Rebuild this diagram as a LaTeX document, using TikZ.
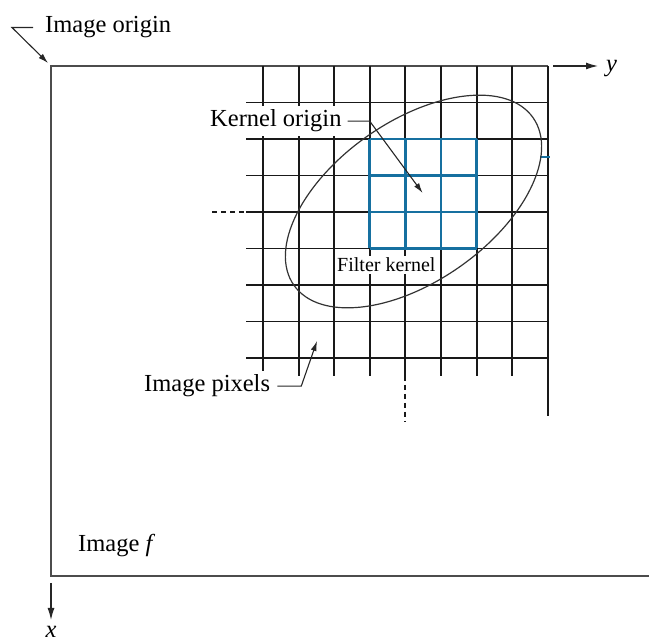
\documentclass[tikz,border=0pt]{standalone}
\usepackage{fontspec}
\setmainfont{Liberation Serif}
\usetikzlibrary{arrows.meta}

\definecolor{kernelblue}{RGB}{22,112,160}
\def\cw{35.6}
\def\ch{36.5}

\begin{document}
\begin{tikzpicture}[
  x=1pt, y=-1pt,
  font=\fontsize{24.5}{29}\selectfont,
  frame/.style={draw=black!70, line width=2pt},
  gridline/.style={draw=black!90, line width=1.9pt},
  kernelline/.style={draw=kernelblue, line width=2.8pt},
  guide/.style={gridline, dash pattern=on 5pt off 4pt},
  ellipseline/.style={draw=black!80, line width=1.2pt},
  lbl/.style={anchor=base west, inner sep=0pt},
  boxlbl/.style={lbl, fill=white, inner xsep=1pt, inner ysep=4pt},
  lead/.style={draw=black!85, line width=1.1pt, -{Latex[length=10pt,width=6pt]}},
  axisarr/.style={draw=black!85, line width=1.2pt, -{Latex[length=12pt,width=7pt]}},
]
\useasboundingbox (0,0) rectangle (649,644);

% ====== IMAGE FRAME ======
\draw[frame] (548,66) -- (51,66) -- (51,576) -- (649,576);

% ====== PIXEL GRID ======
\foreach \k in {0,...,7}
  \draw[gridline] ({263+\k*\cw},66) -- ({263+\k*\cw},376);
\draw[gridline] ({263+8*\cw},66) -- ({263+8*\cw},416);
\foreach \j in {1,...,8}
  \draw[gridline] (246,{66+\j*\ch}) -- ({263+8*\cw},{66+\j*\ch});

% dashed guides
\draw[guide] (212,{66+4*\ch}) -- (246,{66+4*\ch});
\draw[guide] ({263+4*\cw},376) -- ({263+4*\cw},422);

% ====== FILTER KERNEL ======
\foreach \k in {3,...,6}
  \draw[kernelline] ({263+\k*\cw},{66+2*\ch}) -- ({263+\k*\cw},{66+5*\ch});
\foreach \j in {2,...,5}
  \draw[kernelline] ({263+3*\cw},{66+\j*\ch}) -- ({263+6*\cw},{66+\j*\ch});
\draw[kernelline, line width=1.5pt] (540,157) -- (550,157);
\coordinate (kcenter) at ({263+4.5*\cw},{66+3.5*\ch});

% neighbourhood
\draw[ellipseline] (413.5,201.5) ellipse [x radius=146, y radius=80, rotate=35];

% ====== LABELS ======
\node[lbl] (origin) at (45,33) {Image origin};
\node[boxlbl] (korigin) at (209,127) {Kernel origin};
\node[boxlbl, inner ysep=2pt, font=\fontsize{20}{24}\selectfont] (fkernel) at (336,272) {Filter kernel};
\node[boxlbl] (pixels) at (143,392) {Image pixels};
\node[lbl] (imgf) at (78,552) {Image \textit{f}};
\node[lbl] (ylabel) at (606,72) {\textit{y}};
\node[anchor=north, inner sep=0pt] (xlabel) at (51,626) {\textit{x}};

\coordinate (corner) at (51,66);
\coordinate (pxtip) at (317,341);
\coordinate (ytip) at (598,66);
\coordinate (xtip) at (51,620);

% leaders
\draw[lead] ([xshift=-12pt]origin.west) -- ++(-21,0) -- ([shift={(-3,-3)}]corner);
\draw[lead, shorten >=1pt] ([xshift=5pt]korigin.east) -- ++(22,0) -- (kcenter);
\draw[lead] ([xshift=6pt]pixels.east) -- ++(24,0) -- (pxtip);

% axes
\draw[axisarr] (553,66) -- (ytip);
\draw[axisarr] (51,583) -- (xtip);

\end{tikzpicture}
\end{document}
